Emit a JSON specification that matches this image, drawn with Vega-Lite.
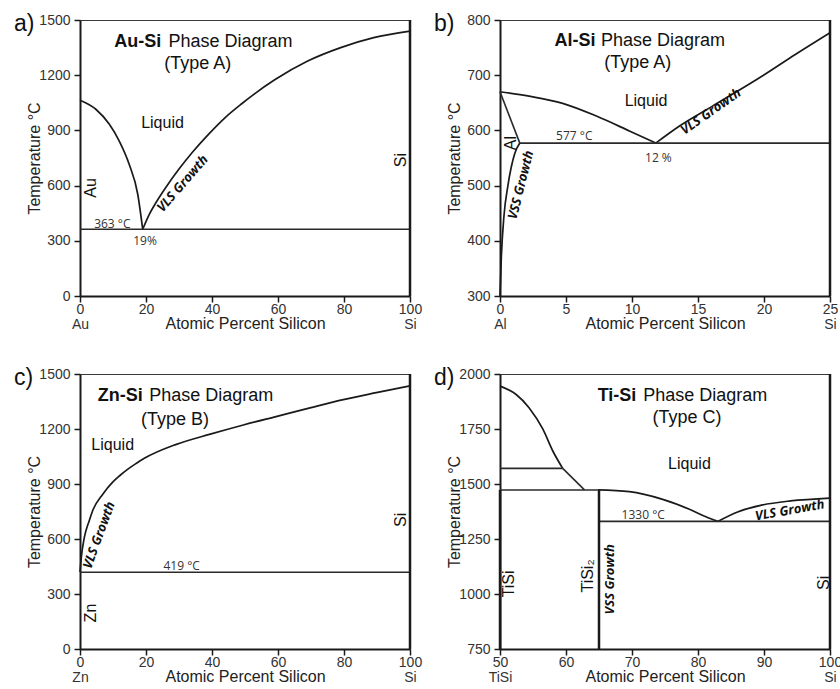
{
  "$schema": "https://vega.github.io/schema/vega-lite/v6.json",
  "padding": {"left": 13, "top": 12, "right": 5, "bottom": 3},
  "background": "white",
  "columns": 2,
  "spacing": {"row": 78, "column": 90},
  "bounds": "flush",
  "config": {
    "font": "Liberation Sans",
    "view": {"stroke": "#3a3a3a", "strokeWidth": 1},
    "axis": {"grid": false, "domainColor": "#1a1a1a", "domainWidth": 2, "tickColor": "#1a1a1a", "tickWidth": 1.5, "tickSize": 6, "labelFont": "Liberation Sans", "labelFontSize": 14, "labelColor": "#333333", "labelPadding": 3, "titleFont": "Liberation Sans", "titleFontSize": 16, "titleFontWeight": "normal", "titleColor": "#222222"}
  },
  "concat": [
    {
      "width": 330, "height": 276,
      "title": {"text": "a)", "anchor": "start", "frame": "group", "dx": -66, "dy": 41, "offset": 0, "baseline": "alphabetic", "fontSize": 23, "fontWeight": "normal", "font": "Liberation Sans", "color": "#111111"},
      "encoding": {
        "x": {"field": "x", "type": "quantitative", "scale": {"domain": [0, 100], "nice": false, "zero": false}, "axis": {"values": [0, 20, 40, 60, 80, 100], "format": "d", "title": "Atomic Percent Silicon", "labelExpr": "datum.value == 0 ? ['0', 'Au'] : datum.value == 100 ? ['100', 'Si'] : datum.label", "labelLineHeight": 15, "labelPadding": 0, "titlePadding": -16, "labelFlush": false, "labelOverlap": false}},
        "y": {"field": "t", "type": "quantitative", "scale": {"domain": [0, 1500], "nice": false, "zero": false}, "axis": {"values": [0, 300, 600, 900, 1200, 1500], "format": "d", "title": "Temperature °C", "titlePadding": -4, "labelPadding": 4, "labelOverlap": false}}
      },
      "layer": [
        {
          "data": {"values": [
            {"g": "L", "x": 0, "t": 1064}, {"g": "L", "x": 4.8, "t": 1015}, {"g": "L", "x": 8.9, "t": 933}, {"g": "L", "x": 11.9, "t": 842}, {"g": "L", "x": 14.9, "t": 716}, {"g": "L", "x": 17.5, "t": 553}, {"g": "L", "x": 19, "t": 363},
            {"g": "R", "x": 19, "t": 363}, {"g": "R", "x": 21, "t": 444}, {"g": "R", "x": 23, "t": 507}, {"g": "R", "x": 26, "t": 590}, {"g": "R", "x": 30, "t": 690}, {"g": "R", "x": 34, "t": 780}, {"g": "R", "x": 39, "t": 880}, {"g": "R", "x": 44, "t": 970}, {"g": "R", "x": 49, "t": 1045}, {"g": "R", "x": 59, "t": 1175}, {"g": "R", "x": 69, "t": 1277}, {"g": "R", "x": 79, "t": 1350}, {"g": "R", "x": 89, "t": 1404}, {"g": "R", "x": 100, "t": 1440}
          ]},
          "mark": {"type": "line", "interpolate": "monotone", "stroke": "#1a1a1a", "strokeWidth": 1.7},
          "encoding": {"detail": {"field": "g"}}
        },
        {
          "data": {"values": [{"g": "E", "x": 0, "t": 363}, {"g": "E", "x": 100, "t": 363}]},
          "mark": {"type": "line", "stroke": "#2a2a2a", "strokeWidth": 1.5},
          "encoding": {"detail": {"field": "g"}}
        },
        {
          "data": {"values": [{"g": "Si", "x": 100, "t": 0}, {"g": "Si", "x": 100, "t": 1500}]},
          "mark": {"type": "line", "stroke": "#1a1a1a", "strokeWidth": 2.5},
          "encoding": {"detail": {"field": "g"}}
        },
        {
          "data": {"values": [{"x": 10.4, "t": 1380, "label": "Au-Si"}]},
          "mark": {"type": "text", "align": "left", "baseline": "middle", "font": "Liberation Sans", "fontSize": 18, "fontWeight": "bold", "color": "#111111"},
          "encoding": {"text": {"field": "label"}}
        },
        {
          "data": {"values": [{"x": 26.8, "t": 1380, "label": "Phase Diagram"}, {"x": 25.5, "t": 1261, "label": "(Type A)"}]},
          "mark": {"type": "text", "align": "left", "baseline": "middle", "font": "Liberation Sans", "fontSize": 18, "color": "#111111"},
          "encoding": {"text": {"field": "label"}}
        },
        {
          "data": {"values": [{"x": 25, "t": 940, "label": "Liquid"}]},
          "mark": {"type": "text", "align": "center", "baseline": "middle", "font": "Liberation Sans", "fontSize": 16, "color": "#111111"},
          "encoding": {"text": {"field": "label"}}
        },
        {
          "data": {"values": [{"x": 9.8, "t": 391, "label": "363 °C"}, {"x": 19.7, "t": 299, "label": "19%"}]},
          "mark": {"type": "text", "align": "center", "baseline": "middle", "font": "Open Sans", "fontSize": 12, "color": "#333333"},
          "encoding": {"text": {"field": "label"}}
        },
        {
          "data": {"values": [{"x": 3.3, "t": 587, "label": "Au"}, {"x": 97.3, "t": 739, "label": "Si"}]},
          "mark": {"type": "text", "align": "center", "baseline": "middle", "angle": 270, "font": "Liberation Sans", "fontSize": 16, "color": "#111111"},
          "encoding": {"text": {"field": "label"}}
        },
        {
          "data": {"values": [{"x": 31.1, "t": 610, "label": "VLS Growth"}]},
          "mark": {"type": "text", "align": "center", "baseline": "middle", "angle": 311, "font": "Open Sans", "fontSize": 13, "fontWeight": "bold", "fontStyle": "italic", "color": "#111111"},
          "encoding": {"text": {"field": "label"}}
        }
      ]
    },
    {
      "width": 330, "height": 276,
      "title": {"text": "b)", "anchor": "start", "frame": "group", "dx": -66, "dy": 41, "offset": 0, "baseline": "alphabetic", "fontSize": 23, "fontWeight": "normal", "font": "Liberation Sans", "color": "#111111"},
      "encoding": {
        "x": {"field": "x", "type": "quantitative", "scale": {"domain": [0, 25], "nice": false, "zero": false}, "axis": {"values": [0, 5, 10, 15, 20, 25], "format": "d", "title": "Atomic Percent Silicon", "labelExpr": "datum.value == 0 ? ['0', 'Al'] : datum.value == 25 ? ['25', 'Si'] : datum.label", "labelLineHeight": 15, "labelPadding": 0, "titlePadding": -16, "labelFlush": false, "labelOverlap": false}},
        "y": {"field": "t", "type": "quantitative", "scale": {"domain": [300, 800], "nice": false, "zero": false}, "axis": {"values": [300, 400, 500, 600, 700, 800], "format": "d", "title": "Temperature °C", "titlePadding": 4, "labelPadding": 4, "labelOverlap": false}}
      },
      "layer": [
        {
          "data": {"values": [
            {"g": "L", "x": 0, "t": 670}, {"g": "L", "x": 2.2, "t": 662}, {"g": "L", "x": 4.75, "t": 649}, {"g": "L", "x": 7.3, "t": 626}, {"g": "L", "x": 9.8, "t": 599}, {"g": "L", "x": 11.8, "t": 577},
            {"g": "R", "x": 11.8, "t": 577}, {"g": "R", "x": 13.6, "t": 608}, {"g": "R", "x": 16.1, "t": 644}, {"g": "R", "x": 19.9, "t": 699}, {"g": "R", "x": 22.4, "t": 738}, {"g": "R", "x": 25, "t": 777},
            {"g": "V", "x": 0, "t": 300}, {"g": "V", "x": 0.1, "t": 370}, {"g": "V", "x": 0.3, "t": 445}, {"g": "V", "x": 0.6, "t": 500}, {"g": "V", "x": 1.1, "t": 557}, {"g": "V", "x": 1.5, "t": 577}
          ]},
          "mark": {"type": "line", "interpolate": "monotone", "stroke": "#1a1a1a", "strokeWidth": 1.7},
          "encoding": {"detail": {"field": "g"}}
        },
        {
          "data": {"values": [{"g": "S", "x": 0, "t": 670}, {"g": "S", "x": 1.5, "t": 577}, {"g": "E", "x": 1.5, "t": 577}, {"g": "E", "x": 25, "t": 577}]},
          "mark": {"type": "line", "stroke": "#2a2a2a", "strokeWidth": 1.6},
          "encoding": {"detail": {"field": "g"}}
        },
        {
          "data": {"values": [{"g": "Si", "x": 25, "t": 300}, {"g": "Si", "x": 25, "t": 800}]},
          "mark": {"type": "line", "stroke": "#1a1a1a", "strokeWidth": 2.5},
          "encoding": {"detail": {"field": "g"}}
        },
        {
          "data": {"values": [{"x": 4.12, "t": 762, "label": "Al-Si"}]},
          "mark": {"type": "text", "align": "left", "baseline": "middle", "font": "Liberation Sans", "fontSize": 18, "fontWeight": "bold", "color": "#111111"},
          "encoding": {"text": {"field": "label"}}
        },
        {
          "data": {"values": [{"x": 7.65, "t": 762, "label": "Phase Diagram"}, {"x": 7.9, "t": 723, "label": "(Type A)"}]},
          "mark": {"type": "text", "align": "left", "baseline": "middle", "font": "Liberation Sans", "fontSize": 18, "color": "#111111"},
          "encoding": {"text": {"field": "label"}}
        },
        {
          "data": {"values": [{"x": 11.06, "t": 653, "label": "Liquid"}]},
          "mark": {"type": "text", "align": "center", "baseline": "middle", "font": "Liberation Sans", "fontSize": 16, "color": "#111111"},
          "encoding": {"text": {"field": "label"}}
        },
        {
          "data": {"values": [{"x": 5.63, "t": 590, "label": "577 °C"}, {"x": 12.0, "t": 550, "label": "12 %"}]},
          "mark": {"type": "text", "align": "center", "baseline": "middle", "font": "Open Sans", "fontSize": 12, "color": "#333333"},
          "encoding": {"text": {"field": "label"}}
        },
        {
          "data": {"values": [{"x": 0.83, "t": 577, "label": "Al"}]},
          "mark": {"type": "text", "align": "center", "baseline": "middle", "angle": 270, "font": "Liberation Sans", "fontSize": 16, "color": "#111111"},
          "encoding": {"text": {"field": "label"}}
        },
        {
          "data": {"values": [{"x": 15.98, "t": 634, "label": "VLS Growth"}]},
          "mark": {"type": "text", "align": "center", "baseline": "middle", "angle": 325, "font": "Open Sans", "fontSize": 13, "fontWeight": "bold", "fontStyle": "italic", "color": "#111111"},
          "encoding": {"text": {"field": "label"}}
        },
        {
          "data": {"values": [{"x": 1.59, "t": 501, "label": "VSS Growth"}]},
          "mark": {"type": "text", "align": "center", "baseline": "middle", "angle": 284, "font": "Open Sans", "fontSize": 13, "fontWeight": "bold", "fontStyle": "italic", "color": "#111111"},
          "encoding": {"text": {"field": "label"}}
        }
      ]
    },
    {
      "width": 330, "height": 275,
      "title": {"text": "c)", "anchor": "start", "frame": "group", "dx": -66, "dy": 41, "offset": 0, "baseline": "alphabetic", "fontSize": 23, "fontWeight": "normal", "font": "Liberation Sans", "color": "#111111"},
      "encoding": {
        "x": {"field": "x", "type": "quantitative", "scale": {"domain": [0, 100], "nice": false, "zero": false}, "axis": {"values": [0, 20, 40, 60, 80, 100], "format": "d", "title": "Atomic Percent Silicon", "labelExpr": "datum.value == 0 ? ['0', 'Zn'] : datum.value == 100 ? ['100', 'Si'] : datum.label", "labelLineHeight": 15, "labelPadding": 0, "titlePadding": -16, "labelFlush": false, "labelOverlap": false}},
        "y": {"field": "t", "type": "quantitative", "scale": {"domain": [0, 1500], "nice": false, "zero": false}, "axis": {"values": [0, 300, 600, 900, 1200, 1500], "format": "d", "title": "Temperature °C", "titlePadding": -4, "labelPadding": 4, "labelOverlap": false}}
      },
      "layer": [
        {
          "data": {"values": [
            {"g": "L", "x": 0, "t": 419}, {"g": "L", "x": 0.4, "t": 500}, {"g": "L", "x": 1.3, "t": 607}, {"g": "L", "x": 2.8, "t": 700}, {"g": "L", "x": 3.8, "t": 753}, {"g": "L", "x": 6.9, "t": 844}, {"g": "L", "x": 9.9, "t": 910}, {"g": "L", "x": 12, "t": 945}, {"g": "L", "x": 14.4, "t": 980}, {"g": "L", "x": 17, "t": 1012}, {"g": "L", "x": 19.5, "t": 1040}, {"g": "L", "x": 29, "t": 1115}, {"g": "L", "x": 39.5, "t": 1172}, {"g": "L", "x": 49.5, "t": 1222}, {"g": "L", "x": 59.7, "t": 1269}, {"g": "L", "x": 69.7, "t": 1315}, {"g": "L", "x": 79.8, "t": 1360}, {"g": "L", "x": 89.8, "t": 1398}, {"g": "L", "x": 100, "t": 1435}
          ]},
          "mark": {"type": "line", "interpolate": "monotone", "stroke": "#1a1a1a", "strokeWidth": 1.7},
          "encoding": {"detail": {"field": "g"}}
        },
        {
          "data": {"values": [{"g": "E", "x": 0, "t": 419}, {"g": "E", "x": 100, "t": 419}]},
          "mark": {"type": "line", "stroke": "#2a2a2a", "strokeWidth": 1.5},
          "encoding": {"detail": {"field": "g"}}
        },
        {
          "data": {"values": [{"g": "Si", "x": 100, "t": 0}, {"g": "Si", "x": 100, "t": 1500}]},
          "mark": {"type": "line", "stroke": "#1a1a1a", "strokeWidth": 2.5},
          "encoding": {"detail": {"field": "g"}}
        },
        {
          "data": {"values": [{"x": 5.4, "t": 1380, "label": "Zn-Si"}]},
          "mark": {"type": "text", "align": "left", "baseline": "middle", "font": "Liberation Sans", "fontSize": 18, "fontWeight": "bold", "color": "#111111"},
          "encoding": {"text": {"field": "label"}}
        },
        {
          "data": {"values": [{"x": 21.0, "t": 1380, "label": "Phase Diagram"}, {"x": 18.5, "t": 1247, "label": "(Type B)"}]},
          "mark": {"type": "text", "align": "left", "baseline": "middle", "font": "Liberation Sans", "fontSize": 18, "color": "#111111"},
          "encoding": {"text": {"field": "label"}}
        },
        {
          "data": {"values": [{"x": 9.9, "t": 1113, "label": "Liquid"}]},
          "mark": {"type": "text", "align": "center", "baseline": "middle", "font": "Liberation Sans", "fontSize": 16, "color": "#111111"},
          "encoding": {"text": {"field": "label"}}
        },
        {
          "data": {"values": [{"x": 30.8, "t": 452, "label": "419 °C"}]},
          "mark": {"type": "text", "align": "center", "baseline": "middle", "font": "Open Sans", "fontSize": 12, "color": "#333333"},
          "encoding": {"text": {"field": "label"}}
        },
        {
          "data": {"values": [{"x": 3.3, "t": 196, "label": "Zn"}, {"x": 97.3, "t": 704, "label": "Si"}]},
          "mark": {"type": "text", "align": "center", "baseline": "middle", "angle": 270, "font": "Liberation Sans", "fontSize": 16, "color": "#111111"},
          "encoding": {"text": {"field": "label"}}
        },
        {
          "data": {"values": [{"x": 5.8, "t": 621, "label": "VLS Growth"}]},
          "mark": {"type": "text", "align": "center", "baseline": "middle", "angle": 290, "font": "Open Sans", "fontSize": 13, "fontWeight": "bold", "fontStyle": "italic", "color": "#111111"},
          "encoding": {"text": {"field": "label"}}
        }
      ]
    },
    {
      "width": 330, "height": 275,
      "title": {"text": "d)", "anchor": "start", "frame": "group", "dx": -66, "dy": 41, "offset": 0, "baseline": "alphabetic", "fontSize": 23, "fontWeight": "normal", "font": "Liberation Sans", "color": "#111111"},
      "encoding": {
        "x": {"field": "x", "type": "quantitative", "scale": {"domain": [50, 100], "nice": false, "zero": false}, "axis": {"values": [50, 60, 70, 80, 90, 100], "format": "d", "title": "Atomic Percent Silicon", "labelExpr": "datum.value == 50 ? ['50', 'TiSi'] : datum.value == 100 ? ['100', 'Si'] : datum.label", "labelLineHeight": 15, "labelPadding": 0, "titlePadding": -16, "labelFlush": false, "labelOverlap": false}},
        "y": {"field": "t", "type": "quantitative", "scale": {"domain": [750, 2000], "nice": false, "zero": false}, "axis": {"values": [750, 1000, 1250, 1500, 1750, 2000], "format": "d", "title": "Temperature °C", "titlePadding": -4, "labelPadding": 4, "labelOverlap": false}}
      },
      "layer": [
        {
          "data": {"values": [
            {"g": "T", "x": 50, "t": 1945}, {"g": "T", "x": 52.4, "t": 1908}, {"g": "T", "x": 54.4, "t": 1847}, {"g": "T", "x": 56.5, "t": 1749}, {"g": "T", "x": 58, "t": 1650}, {"g": "T", "x": 59.5, "t": 1571},
            {"g": "L", "x": 64.8, "t": 1473}, {"g": "L", "x": 69.6, "t": 1465}, {"g": "L", "x": 74.65, "t": 1430}, {"g": "L", "x": 78.7, "t": 1385}, {"g": "L", "x": 81.2, "t": 1351}, {"g": "L", "x": 83, "t": 1330},
            {"g": "R", "x": 83, "t": 1330}, {"g": "R", "x": 86, "t": 1373}, {"g": "R", "x": 89.5, "t": 1403}, {"g": "R", "x": 94, "t": 1423}, {"g": "R", "x": 100, "t": 1436}
          ]},
          "mark": {"type": "line", "interpolate": "monotone", "stroke": "#1a1a1a", "strokeWidth": 1.7},
          "encoding": {"detail": {"field": "g"}}
        },
        {
          "data": {"values": [
            {"g": "K", "x": 59.5, "t": 1571}, {"g": "K", "x": 62.8, "t": 1473},
            {"g": "H1", "x": 50, "t": 1571}, {"g": "H1", "x": 59.5, "t": 1571},
            {"g": "H2", "x": 50, "t": 1473}, {"g": "H2", "x": 64.8, "t": 1473},
            {"g": "E", "x": 65, "t": 1330}, {"g": "E", "x": 100, "t": 1330}
          ]},
          "mark": {"type": "line", "stroke": "#2a2a2a", "strokeWidth": 1.6},
          "encoding": {"detail": {"field": "g"}}
        },
        {
          "data": {"values": [
            {"g": "TiSi2", "x": 65, "t": 750}, {"g": "TiSi2", "x": 65, "t": 1473},
            {"g": "TiSi", "x": 50, "t": 750}, {"g": "TiSi", "x": 50, "t": 1473},
            {"g": "Si", "x": 100, "t": 750}, {"g": "Si", "x": 100, "t": 2000}
          ]},
          "mark": {"type": "line", "stroke": "#1a1a1a", "strokeWidth": 2.5},
          "encoding": {"detail": {"field": "g"}}
        },
        {
          "data": {"values": [{"x": 64.8, "t": 1900, "label": "Ti-Si"}]},
          "mark": {"type": "text", "align": "left", "baseline": "middle", "font": "Liberation Sans", "fontSize": 18, "fontWeight": "bold", "color": "#111111"},
          "encoding": {"text": {"field": "label"}}
        },
        {
          "data": {"values": [{"x": 71.7, "t": 1900, "label": "Phase Diagram"}, {"x": 73.1, "t": 1801, "label": "(Type C)"}]},
          "mark": {"type": "text", "align": "left", "baseline": "middle", "font": "Liberation Sans", "fontSize": 18, "color": "#111111"},
          "encoding": {"text": {"field": "label"}}
        },
        {
          "data": {"values": [{"x": 78.7, "t": 1590, "label": "Liquid"}]},
          "mark": {"type": "text", "align": "center", "baseline": "middle", "font": "Liberation Sans", "fontSize": 16, "color": "#111111"},
          "encoding": {"text": {"field": "label"}}
        },
        {
          "data": {"values": [{"x": 71.7, "t": 1359, "label": "1330 °C"}]},
          "mark": {"type": "text", "align": "center", "baseline": "middle", "font": "Open Sans", "fontSize": 12, "color": "#333333"},
          "encoding": {"text": {"field": "label"}}
        },
        {
          "data": {"values": [{"x": 51.3, "t": 1046, "label": "TiSi"}, {"x": 63.3, "t": 1082, "label": "TiSi₂"}, {"x": 99.1, "t": 1051, "label": "Si"}]},
          "mark": {"type": "text", "align": "center", "baseline": "middle", "angle": 270, "font": "Liberation Sans", "fontSize": 16, "color": "#111111"},
          "encoding": {"text": {"field": "label"}}
        },
        {
          "data": {"values": [{"x": 93.9, "t": 1380, "label": "VLS Growth"}]},
          "mark": {"type": "text", "align": "center", "baseline": "middle", "angle": 350, "font": "Open Sans", "fontSize": 13, "fontWeight": "bold", "fontStyle": "italic", "color": "#111111"},
          "encoding": {"text": {"field": "label"}}
        },
        {
          "data": {"values": [{"x": 66.6, "t": 1067, "label": "VSS Growth"}]},
          "mark": {"type": "text", "align": "center", "baseline": "middle", "angle": 270, "font": "Open Sans", "fontSize": 13, "fontWeight": "bold", "fontStyle": "italic", "color": "#111111"},
          "encoding": {"text": {"field": "label"}}
        }
      ]
    }
  ]
}
